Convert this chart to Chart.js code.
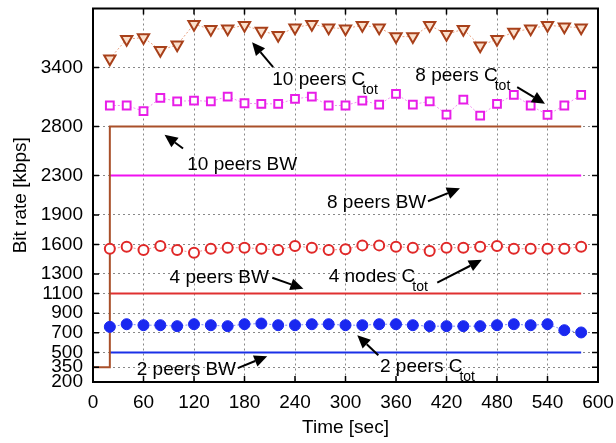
<!DOCTYPE html>
<html>
<head>
<meta charset="utf-8">
<script src="https://cdn.jsdelivr.net/npm/chart.js@4.4.1/dist/chart.umd.min.js"></script>
<style>
  html, body { margin: 0; padding: 0; background: #fff; }
  #wrap { width: 616px; height: 443px; }
</style>
</head>
<body>
<div id="wrap"><canvas id="rate"></canvas></div>
<script>
// sample times (sec)
var times = [20, 40, 60, 80, 100, 120, 140, 160, 180, 200, 220, 240, 260, 280, 300,
             320, 340, 360, 380, 400, 420, 440, 460, 480, 500, 520, 540, 560, 580];

// measured total rate, kbps
var ctot10 = [3490, 3688, 3704, 3576, 3630, 3840, 3789, 3795, 3829, 3772, 3728, 3805, 3840, 3805, 3795,
              3829, 3805, 3714, 3714, 3829, 3738, 3789, 3620, 3688, 3761, 3795, 3829, 3815, 3805];
var ctot8  = [3013, 3013, 2955, 3090, 3056, 3063, 3056, 3104, 3036, 3030, 3030, 3080, 3104, 3013, 3013,
              3063, 3023, 3131, 3023, 3056, 2921, 3073, 2911, 3030, 3121, 3013, 2918, 3013, 3121];
var ctot4  = [1556, 1576, 1543, 1583, 1543, 1516, 1556, 1566, 1566, 1556, 1543, 1583, 1566, 1543, 1550,
              1590, 1590, 1576, 1566, 1533, 1566, 1566, 1576, 1583, 1556, 1556, 1556, 1556, 1576];
var ctot2  = [761, 788, 778, 778, 768, 788, 778, 768, 788, 795, 778, 778, 788, 788, 778,
              778, 788, 788, 778, 768, 768, 768, 768, 778, 788, 778, 788, 727, 704];

// bandwidth limits
var bwStepTimes = [0, 20, 20, 580];
var bw10 = [350, 350, 2800, 2800];
var bwTimes = [20, 580];
var bw8 = [2300, 2300];
var bw4 = [1100, 1100];
var bw2 = [500, 500];

var yTicks = [200, 350, 500, 700, 900, 1100, 1300, 1600, 1900, 2300, 2800, 3400];

function pts(xs, ys) {
    var out = [];
    for (var i = 0; i < xs.length; i++) out.push({x: xs[i], y: ys[i]});
    return out;
}

// labels and arrows, in data units (time, kbps)
var notes = [
    {text: '10 peers C', sub: 'tot', x: 213, y: 3272, from: [214, 3404], to: [189, 3656]},
    {text: '8 peers C',  sub: 'tot', x: 383, y: 3313, from: [504, 3201], to: [537, 3030]},
    {text: '10 peers BW', x: 112, y: 2413, from: [107, 2575], to: [85, 2716]},
    {text: '8 peers BW',  x: 278, y: 2019, from: [398, 2039], to: [436, 2171]},
    {text: '4 peers BW',  x: 91,  y: 1261, from: [213, 1261], to: [250, 1150]},
    {text: '4 nodes C', sub: 'tot', x: 280, y: 1271, from: [409, 1211], to: [462, 1443]},
    {text: '2 peers C', sub: 'tot', x: 341, y: 352, from: [339, 473], to: [314, 675]},
    {text: '2 peers BW',  x: 52,  y: 321, from: [172, 341], to: [207, 463]}
];

var FONT = '"Liberation Sans", Arial, sans-serif';

var framePlugin = {
    id: 'frame',
    afterDatasetsDraw: function(chart) {
        var c = chart.ctx, a = chart.chartArea;
        var xs = chart.scales.x, ys = chart.scales.y;
        c.save();
        c.strokeStyle = '#000';
        c.lineWidth = 1.5;
        c.beginPath();
        xs.ticks.forEach(function(t) {
            var px = xs.getPixelForValue(t.value);
            c.moveTo(px, a.bottom); c.lineTo(px, a.bottom - 6);
            c.moveTo(px, a.top); c.lineTo(px, a.top + 6);
        });
        ys.ticks.forEach(function(t) {
            var py = ys.getPixelForValue(t.value);
            c.moveTo(a.left, py); c.lineTo(a.left + 6, py);
            c.moveTo(a.right, py); c.lineTo(a.right - 6, py);
        });
        c.stroke();
        c.lineWidth = 2;
        c.strokeRect(a.left, a.top, a.right - a.left, a.bottom - a.top);
        c.restore();
    },
    afterDraw: function(chart) {
        var c = chart.ctx;
        var xs = chart.scales.x, ys = chart.scales.y;
        c.save();
        c.fillStyle = '#000';
        c.strokeStyle = '#000';
        notes.forEach(function(n) {
            var px = xs.getPixelForValue(n.x), py = ys.getPixelForValue(n.y);
            c.font = '19px ' + FONT;
            c.textBaseline = 'middle';
            c.textAlign = 'left';
            c.fillText(n.text, px, py);
            if (n.sub) {
                var w = c.measureText(n.text).width;
                c.font = '14px ' + FONT;
                c.fillText(n.sub, px + w - 3, py + 10);
            }
            var x0 = xs.getPixelForValue(n.from[0]), y0 = ys.getPixelForValue(n.from[1]);
            var x1 = xs.getPixelForValue(n.to[0]), y1 = ys.getPixelForValue(n.to[1]);
            var ang = Math.atan2(y1 - y0, x1 - x0);
            var hl = 13, hw = 6;
            var bx = x1 - hl * Math.cos(ang), by = y1 - hl * Math.sin(ang);
            c.lineWidth = 2;
            c.beginPath();
            c.moveTo(x0, y0); c.lineTo(bx, by);
            c.stroke();
            c.beginPath();
            c.moveTo(x1, y1);
            c.lineTo(bx + hw * Math.sin(ang), by - hw * Math.cos(ang));
            c.lineTo(bx - hw * Math.sin(ang), by + hw * Math.cos(ang));
            c.closePath();
            c.fill();
        });
        c.restore();
    }
};

Chart.defaults.font.family = FONT;
Chart.defaults.font.size = 19;
Chart.defaults.color = '#000';

var ctx = document.getElementById('rate');
var rateChart = new Chart(ctx, {
    type: 'scatter',
    data: {
        datasets: [
            {
                data: pts(bwStepTimes, bw10), showLine: true, pointRadius: 0,
                borderColor: '#a9502a', borderWidth: 2, order: 1
            },
            {
                data: pts(bwTimes, bw8), showLine: true, pointRadius: 0,
                borderColor: '#f010f0', borderWidth: 2, order: 2
            },
            {
                data: pts(bwTimes, bw4), showLine: true, pointRadius: 0,
                borderColor: '#e03030', borderWidth: 2, order: 2
            },
            {
                data: pts(bwTimes, bw2), showLine: true, pointRadius: 0,
                borderColor: '#1a30e8', borderWidth: 2, order: 2
            },
            {
                data: pts(times, ctot10), showLine: true,
                borderColor: '#e8a080', borderWidth: 1, borderDash: [2, 2],
                pointStyle: 'triangle', rotation: 180, pointRadius: 6.5,
                pointBorderColor: '#a8401a', pointBackgroundColor: '#fbe0cc', pointBorderWidth: 2
            },
            {
                data: pts(times, ctot8), showLine: true,
                borderColor: '#f090f0', borderWidth: 1, borderDash: [2, 2],
                pointStyle: 'rect', pointRadius: 5.5,
                pointBorderColor: '#e81ee8', pointBackgroundColor: '#fff', pointBorderWidth: 2
            },
            {
                data: pts(times, ctot4), showLine: true,
                borderColor: '#f09090', borderWidth: 1, borderDash: [2, 2],
                pointStyle: 'circle', pointRadius: 5,
                pointBorderColor: '#e02828', pointBackgroundColor: '#fff', pointBorderWidth: 2
            },
            {
                data: pts(times, ctot2), showLine: true,
                borderColor: '#8090f0', borderWidth: 1, borderDash: [2, 2],
                pointStyle: 'circle', pointRadius: 5.5,
                pointBorderColor: '#1a28f0', pointBackgroundColor: '#1a28f0', pointBorderWidth: 1
            }
        ]
    },
    options: {
        responsive: true,
        maintainAspectRatio: false,
        animation: false,
        layout: { padding: { left: 0, top: 6, right: 18, bottom: 0 } },
        plugins: { legend: { display: false }, tooltip: { enabled: false } },
        scales: {
            x: {
                type: 'linear', min: 0, max: 600,
                ticks: { stepSize: 60, padding: 9, maxRotation: 0 },
                grid: { color: '#888', lineWidth: 1, drawTicks: false },
                border: { display: false, dash: [2, 3] },
                title: { display: true, text: 'Time [sec]', padding: { top: 0, bottom: 4 } },
                afterFit: function(s) { s.height = 61; s.paddingLeft = 0; s.paddingRight = 0; }
            },
            y: {
                type: 'linear', min: 200, max: 4000,
                afterBuildTicks: function(s) {
                    s.ticks = yTicks.map(function(v) { return {value: v}; });
                },
                ticks: { padding: 10, autoSkip: false, callback: function(v) { return String(v); } },
                grid: { color: '#888', lineWidth: 1, drawTicks: false },
                border: { display: false, dash: [2, 3] },
                title: { display: true, text: 'Bit rate [kbps]', padding: { top: 9, bottom: 0 } },
                afterFit: function(s) { s.width = 93; s.paddingTop = 0; s.paddingBottom = 0; }
            }
        }
    },
    plugins: [framePlugin]
});
</script>
</body>
</html>
